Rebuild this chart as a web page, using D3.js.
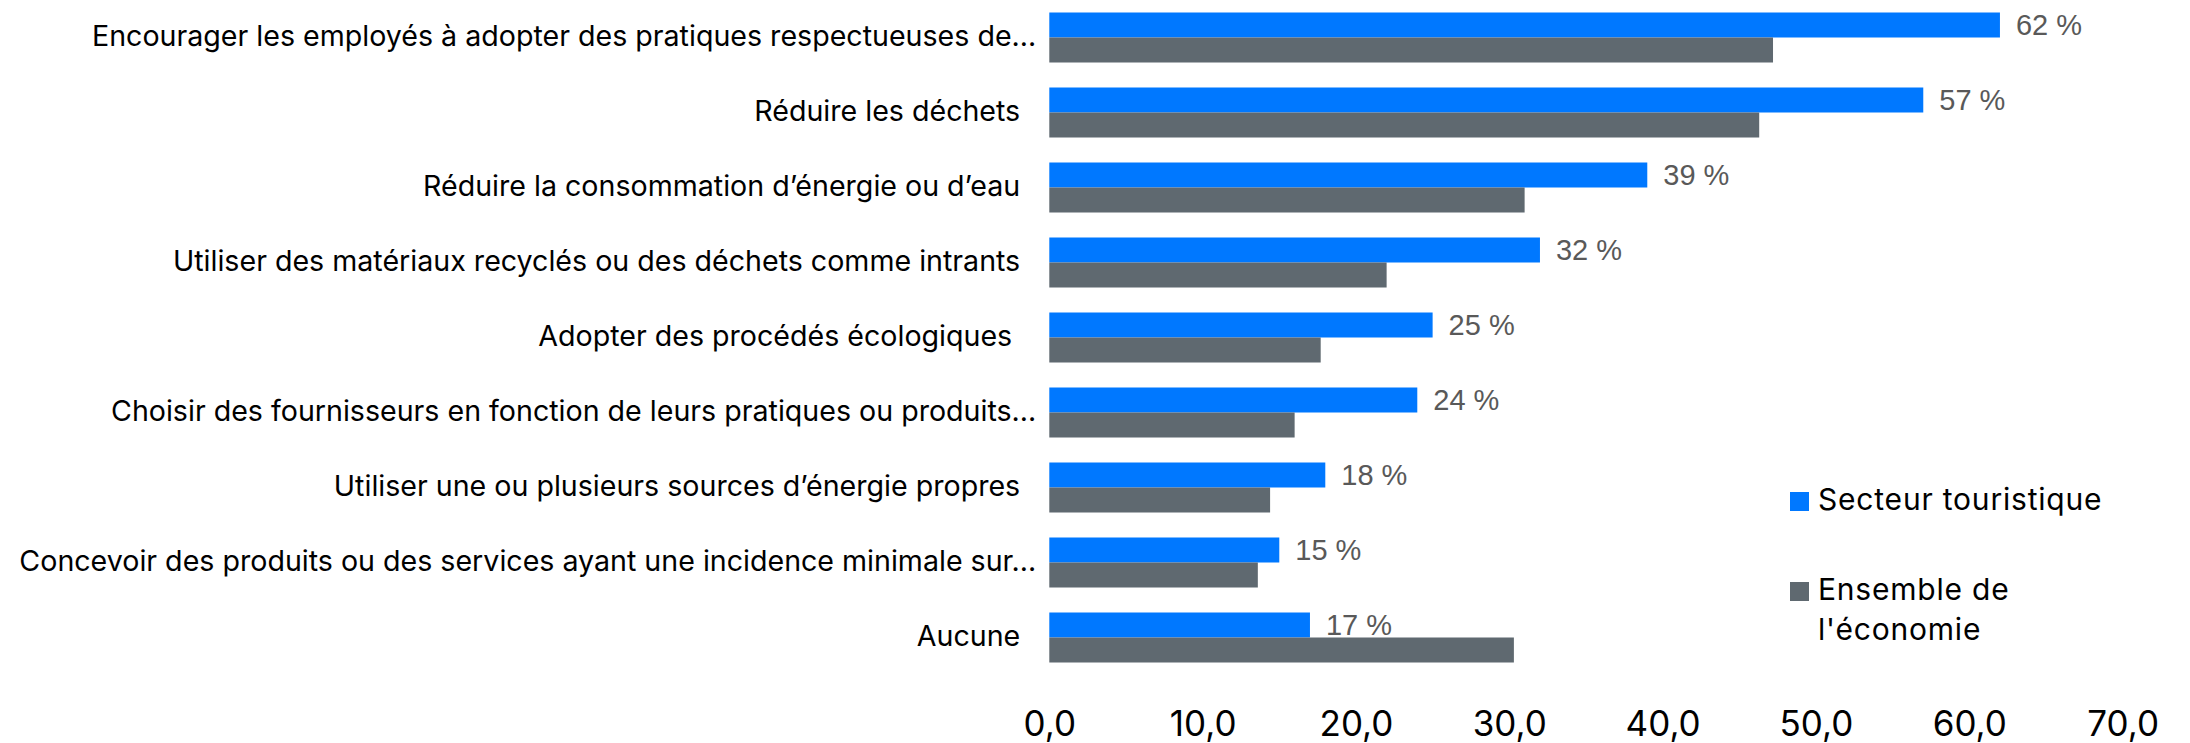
<!DOCTYPE html>
<html>
<head>
<meta charset="utf-8">
<script src="https://cdn.jsdelivr.net/npm/d3@7/dist/d3.min.js"></script>
<style>
  html, body { margin: 0; padding: 0; background: #fff; }
  svg { display: block; }
  .cat text { white-space: pre; }
</style>
</head>
<body>
<svg id="chart" width="2190" height="743"></svg>
<script>
const categories = [
  "Encourager les employés à adopter des pratiques respectueuses de…",
  "Réduire les déchets  ",
  "Réduire la consommation d’énergie ou d’eau  ",
  "Utiliser des matériaux recyclés ou des déchets comme intrants  ",
  "Adopter des procédés écologiques   ",
  "Choisir des fournisseurs en fonction de leurs pratiques ou produits…",
  "Utiliser une ou plusieurs sources d’énergie propres  ",
  "Concevoir des produits ou des services ayant une incidence minimale sur…",
  "Aucune  "
];
const seriesNames = ["Secteur touristique", "Ensemble de l'économie"];
const tourisme = [62, 57, 39, 32, 25, 24, 18, 15, 17];
const economie = [47.2, 46.3, 31.0, 22.0, 17.7, 16.0, 14.4, 13.6, 30.3];
const xTicks = [0, 10, 20, 30, 40, 50, 60, 70];
const colors = ["#0078FF", "#5F6970"];

const svg = d3.select("#chart");
const labelFont = "Inter, 'Noto Sans', sans-serif";

const x = d3.scaleLinear().domain([0, 70]).range([1049.3, 2122.6]);
const y = d3.scaleBand().domain(d3.range(categories.length)).range([0, 675])
  .paddingInner(1/3).paddingOuter(1/6);
const ySub = d3.scaleBand().domain([0, 1]).range([0, y.bandwidth()]);

const data = categories.map((c, i) => ({ i, values: [tourisme[i], economie[i]] }));

// bars
const groups = svg.append("g").selectAll("g").data(data).join("g")
  .attr("transform", d => `translate(0,${y(d.i)})`);
groups.selectAll("rect").data(d => d.values.map((v, s) => ({ v, s }))).join("rect")
  .attr("x", x(0))
  .attr("y", d => ySub(d.s))
  .attr("width", d => x(d.v) - x(0))
  .attr("height", ySub.bandwidth())
  .attr("fill", d => colors[d.s]);

// value labels (tourism)
groups.append("text")
  .attr("x", d => x(d.values[0]) + 16)
  .attr("y", ySub(0) + ySub.bandwidth() / 2)
  .attr("dy", "0.36em")
  .attr("font-family", "'Liberation Sans', Arial, sans-serif")
  .attr("font-size", 29)
  .attr("fill", "#595959")
  .text(d => d.values[0] + " %");

// category axis
const yAxis = d3.axisLeft(y).tickSize(0).tickPadding(13).tickFormat(i => categories[i]);
const gy = svg.append("g").attr("class", "cat").attr("transform", `translate(${x(0)},0)`).call(yAxis);
gy.select(".domain").remove();
gy.selectAll("text").attr("font-family", labelFont).attr("font-size", 28.6).attr("fill", "#000").attr("dy", "0.3em");

// x axis
const loc = d3.formatLocale({ decimal: ",", thousands: " ", grouping: [3], currency: ["", " €"] });
const xAxis = d3.axisBottom(x).tickValues(xTicks).tickSize(0).tickPadding(0).tickFormat(loc.format(".1f"));
const gx = svg.append("g").attr("transform", `translate(0,736)`).call(xAxis);
gx.select(".domain").remove();
gx.selectAll("text").attr("font-family", labelFont).attr("font-size", 35).attr("fill", "#000").attr("dy", 0);

// legend
const legend = svg.append("g").attr("transform", "translate(1790,0)");
const legendItems = [
  { lines: ["Secteur touristique"], top: 492 },
  { lines: ["Ensemble de", "l'économie"], top: 582 }
];
legendItems.forEach((it, k) => {
  legend.append("rect").attr("x", 0).attr("y", it.top).attr("width", 19).attr("height", 19).attr("fill", colors[k]);
  const t = legend.append("text").attr("x", 28).attr("y", it.top + 18)
    .attr("font-family", labelFont).attr("font-size", 30).attr("letter-spacing", 0.8).attr("fill", "#000");
  it.lines.forEach((ln, j) => t.append("tspan").attr("x", 28).attr("dy", j === 0 ? 0 : 40).text(ln));
});
</script>
</body>
</html>
